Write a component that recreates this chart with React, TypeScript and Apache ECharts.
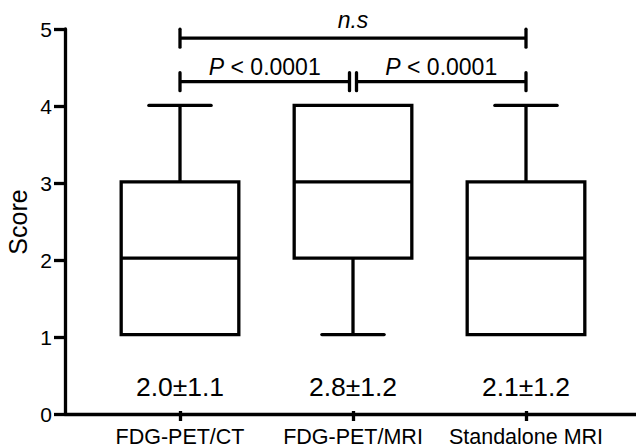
import React, { useEffect, useRef } from "react";
import * as echarts from "echarts";

const categories = ["FDG-PET/CT", "FDG-PET/MRI", "Standalone MRI"];
const minValues = [1, 1, 1];
const q1Values = [1, 2, 1];
const medianValues = [2, 3, 2];
const q3Values = [3, 4, 3];
const maxValues = [4, 4, 4];
const meanSdLabels = ["2.0±1.1", "2.8±1.2", "2.1±1.2"];
const yTickValues = [0, 1, 2, 3, 4, 5];
const yAxisTitle = "Score";

const comparisonFrom = [0, 1, 0];
const comparisonTo = [1, 2, 2];
const comparisonLevel = [4.31, 4.31, 4.88];
const comparisonItalic = ["P", "P", "n.s"];
const comparisonRest = [" < 0.0001", " < 0.0001", ""];

const FONT = "'Liberation Sans', Arial, Helvetica, sans-serif";
const LW = 3.3;

export default function App() {
  const ref = useRef<HTMLDivElement>(null);

  useEffect(() => {
    if (!ref.current) return;
    const chart = echarts.init(ref.current, undefined, { renderer: "svg" });

    const boxData = categories.map((_, i) => [
      i,
      minValues[i],
      q1Values[i],
      medianValues[i],
      q3Values[i],
      maxValues[i],
    ]);
    const compData = comparisonFrom.map((f, i) => [f, comparisonTo[i], comparisonLevel[i], i]);
    const statData = categories.map((_, i) => [i, 0.31, i]);

    const lineStyle = { stroke: "#000", lineWidth: LW, fill: "none" };

    const option: any = {
      animation: false,
      backgroundColor: "#fff",
      grid: [
        { left: 65, right: 0, top: 29, bottom: 34 },
        { left: 93.5, right: 23.5, top: 29, bottom: 34 },
      ],
      graphic: [
        {
          type: "text",
          x: 17.5,
          y: 222,
          rotation: Math.PI / 2,
          style: {
            text: yAxisTitle,
            font: "25px 'Liberation Sans', Arial, sans-serif",
            fontSize: 25,
            fontFamily: FONT,
            fill: "#000",
            align: "center",
            verticalAlign: "middle",
          },
        },
      ],
      xAxis: [
        {
          gridIndex: 0,
          type: "value",
          min: 0,
          max: 1,
          axisLine: { show: true, lineStyle: { color: "#000", width: LW } },
          axisTick: { show: false },
          axisLabel: { show: false },
          splitLine: { show: false },
        },
        {
          gridIndex: 1,
          type: "category",
          data: categories,
          boundaryGap: true,
          axisLine: { show: false },
          axisTick: {
            show: true,
            alignWithLabel: true,
            length: 10,
            lineStyle: { color: "#000", width: LW },
          },
          axisLabel: {
            color: "#000",
            fontSize: 21.5,
            fontFamily: FONT,
            margin: 15,
            interval: 0,
          },
          splitLine: { show: false },
        },
      ],
      yAxis: [
        {
          gridIndex: 0,
          type: "value",
          min: yTickValues[0],
          max: yTickValues[yTickValues.length - 1],
          interval: 1,
          axisLine: { show: true, lineStyle: { color: "#000", width: LW } },
          axisTick: { show: true, length: 11, lineStyle: { color: "#000", width: LW } },
          axisLabel: { color: "#000", fontSize: 21, fontFamily: FONT, margin: 13 },
          splitLine: { show: false },
        },
        {
          gridIndex: 1,
          type: "value",
          min: yTickValues[0],
          max: yTickValues[yTickValues.length - 1],
          show: false,
        },
      ],
      series: [
        {
          type: "custom",
          name: "box",
          xAxisIndex: 1,
          yAxisIndex: 1,
          data: boxData,
          encode: { x: 0, y: [1, 2, 3, 4, 5] },
          renderItem: (params: any, api: any) => {
            const x = api.value(0);
            const band = api.size([1, 0])[0];
            const half = (band * 0.68) / 2;
            const capHalf = (band * 0.36) / 2;
            const cx = api.coord([x, 0])[0];
            const yMin = api.coord([x, api.value(1)])[1];
            const yQ1 = api.coord([x, api.value(2)])[1];
            const yMed = api.coord([x, api.value(3)])[1];
            const yQ3 = api.coord([x, api.value(4)])[1];
            const yMax = api.coord([x, api.value(5)])[1];
            const children: any[] = [];
            if (yMax < yQ3) {
              children.push({ type: "line", shape: { x1: cx, y1: yMax, x2: cx, y2: yQ3 }, style: lineStyle });
              children.push({
                type: "line",
                shape: { x1: cx - capHalf, y1: yMax, x2: cx + capHalf, y2: yMax },
                style: { ...lineStyle, lineCap: "round" },
              });
            }
            if (yMin > yQ1) {
              children.push({ type: "line", shape: { x1: cx, y1: yQ1, x2: cx, y2: yMin }, style: lineStyle });
              children.push({
                type: "line",
                shape: { x1: cx - capHalf, y1: yMin, x2: cx + capHalf, y2: yMin },
                style: { ...lineStyle, lineCap: "round" },
              });
            }
            children.push({
              type: "rect",
              shape: { x: cx - half, y: yQ3, width: half * 2, height: yQ1 - yQ3 },
              style: { stroke: "#000", lineWidth: LW, fill: "#fff" },
            });
            children.push({
              type: "line",
              shape: { x1: cx - half, y1: yMed, x2: cx + half, y2: yMed },
              style: lineStyle,
            });
            return { type: "group", children };
          },
        },
        {
          type: "custom",
          name: "stats",
          xAxisIndex: 1,
          yAxisIndex: 1,
          data: statData,
          encode: { x: 0, y: 1 },
          renderItem: (params: any, api: any) => {
            const p = api.coord([api.value(0), api.value(1)]);
            return {
              type: "text",
              x: p[0],
              y: p[1],
              style: {
                text: meanSdLabels[api.value(2)],
                fontSize: 26.5,
                fontFamily: FONT,
                fill: "#000",
                align: "center",
                verticalAlign: "middle",
              },
            };
          },
        },
        {
          type: "custom",
          name: "comparisons",
          xAxisIndex: 1,
          yAxisIndex: 1,
          data: compData,
          encode: { x: [0, 1], y: 2 },
          renderItem: (params: any, api: any) => {
            const from = api.value(0);
            const to = api.value(1);
            const level = api.value(2);
            const idx = api.value(3);
            const y = api.coord([from, level])[1];
            let x1 = api.coord([from, level])[0];
            let x2 = api.coord([to, level])[0];
            comparisonFrom.forEach((f, j) => {
              if (j === idx || comparisonLevel[j] !== level) return;
              if (comparisonTo[j] === from) x1 += 3.5;
              if (f === to) x2 -= 3.5;
            });
            const tick = 9;
            const isNs = comparisonRest[idx] === "";
            return {
              type: "group",
              children: [
                { type: "line", shape: { x1, y1: y, x2, y2: y }, style: lineStyle },
                {
                  type: "line",
                  shape: { x1, y1: y - tick, x2: x1, y2: y + tick },
                  style: { ...lineStyle, lineCap: "round" },
                },
                {
                  type: "line",
                  shape: { x1: x2, y1: y - tick, x2, y2: y + tick },
                  style: { ...lineStyle, lineCap: "round" },
                },
                {
                  type: "text",
                  x: (x1 + x2) / 2,
                  y: y - (isNs ? 7 : 3),
                  style: {
                    text: "{i|" + comparisonItalic[idx] + "}{n|" + comparisonRest[idx] + "}",
                    align: "center",
                    verticalAlign: "bottom",
                    fill: "#000",
                    rich: {
                      i: { fontSize: 23, fontStyle: "italic", fontFamily: FONT, fill: "#000" },
                      n: { fontSize: 23, fontFamily: FONT, fill: "#000" },
                    },
                  },
                },
              ],
            };
          },
        },
      ],
    };

    chart.setOption(option);
    return () => chart.dispose();
  }, []);

  return (
    <div
      ref={ref}
      style={{ position: "fixed", left: 0, top: 0, width: 636, height: 448, background: "#fff" }}
    />
  );
}
